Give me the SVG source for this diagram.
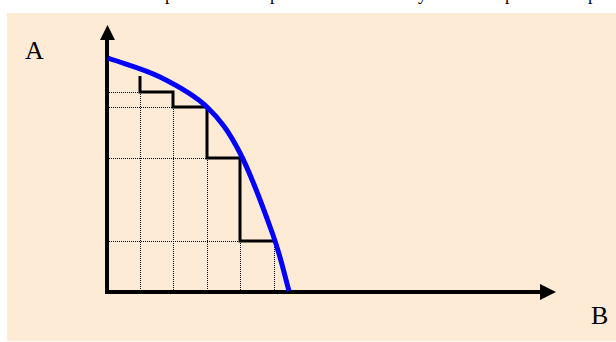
<svg xmlns="http://www.w3.org/2000/svg" width="616" height="342" viewBox="0 0 616 342">
  <style>
    .lbl { font-family: "Liberation Serif", "Times New Roman", serif; font-size: 26px; fill: #000; }
    .frag { font-family: "Liberation Serif", "Times New Roman", serif; font-size: 18px; fill: #000; }
    .axis { stroke: #000; stroke-width: 4; fill: none; stroke-linecap: butt; }
    .grid { stroke: #000; stroke-width: 1; stroke-dasharray: 1 1; fill: none; }
    .step { stroke: #000; stroke-width: 3; fill: none; stroke-linejoin: miter; }
    .ppf { stroke: #0000FF; stroke-width: 5; fill: none; stroke-linecap: butt; stroke-linejoin: round; }
  </style>
  <rect x="0" y="0" width="616" height="342" fill="#FFFFFF"/>
  <g id="caption-fragments">
    <text class="frag" x="165" y="0">p</text>
    <text class="frag" x="270" y="0">p</text>
    <text class="frag" x="418" y="0">y</text>
    <text class="frag" x="505" y="0">p</text>
    <text class="frag" x="588" y="0">p</text>
  </g>
  <rect id="panel" x="7" y="13" width="609" height="328" fill="#FDEBD6"/>
  <g id="grid">
    <line class="grid" x1="109" y1="92.5" x2="140" y2="92.5"/>
    <line class="grid" x1="109" y1="107.5" x2="173" y2="107.5"/>
    <line class="grid" x1="109" y1="158.5" x2="207" y2="158.5"/>
    <line class="grid" x1="109" y1="241.5" x2="240" y2="241.5"/>
    <line class="grid" x1="140.5" y1="92" x2="140.5" y2="290"/>
    <line class="grid" x1="173.5" y1="107" x2="173.5" y2="290"/>
    <line class="grid" x1="207.5" y1="158" x2="207.5" y2="290"/>
    <line class="grid" x1="240.5" y1="241" x2="240.5" y2="290"/>
    <line class="grid" x1="274.5" y1="241" x2="274.5" y2="290"/>
  </g>
  <g id="connectors">
    <g id="y-axis">
      <line class="axis" x1="107" y1="294" x2="107" y2="39"/>
      <polygon points="107.5,25 100,40 115,40" fill="#000"/>
    </g>
    <g id="x-axis">
      <line class="axis" x1="105" y1="292" x2="541" y2="292"/>
      <polygon points="556,292 540,284 540,300" fill="#000"/>
    </g>
    <path id="staircase" class="step" d="M140,76 V92 H173 V107 H207 V158 H240 V241 H274"/>
    <path id="frontier" class="ppf" d="M108,58 C125.3,64.3 143.5,68.8 160,77 C176.5,85.2 193.7,94.3 207,107 C220.3,119.7 229,131.7 240,153 C251,174.3 264.8,212 273,235 C281.2,258 283.7,272.3 289,291"/>
  </g>
  <g id="label-A"><text class="lbl" x="25" y="59">A</text></g>
  <g id="label-B"><text class="lbl" x="591" y="324">B</text></g>
</svg>
